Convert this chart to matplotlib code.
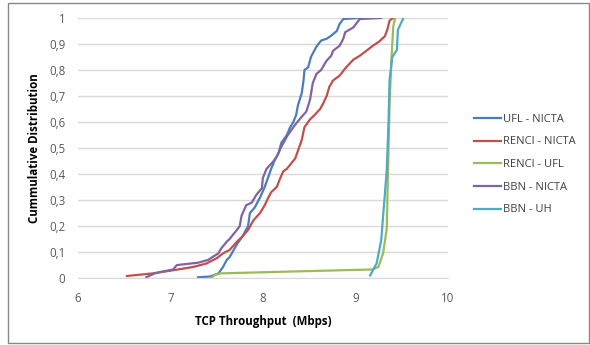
import matplotlib.pyplot as plt
from matplotlib.patches import Rectangle
from matplotlib.ticker import FuncFormatter

# CDF curves: (throughput Mbps, cumulative fraction)
ufl_nicta_x = [7.30, 7.43, 7.52, 7.57, 7.61, 7.64, 7.72, 7.78, 7.84, 7.86, 7.91, 7.97,
               8.02, 8.06, 8.09, 8.13, 8.17, 8.20, 8.24, 8.26, 8.29, 8.33, 8.36, 8.38,
               8.42, 8.44, 8.45, 8.49, 8.52, 8.58, 8.63, 8.69, 8.74, 8.80, 8.83, 8.87,
               9.05]
ufl_nicta_y = [0.003, 0.006, 0.018, 0.043, 0.07, 0.08, 0.13, 0.16, 0.20, 0.25, 0.27, 0.31,
               0.35, 0.39, 0.42, 0.454, 0.48, 0.52, 0.54, 0.55, 0.576, 0.60, 0.627, 0.665,
               0.71, 0.76, 0.80, 0.81, 0.85, 0.89, 0.913, 0.92, 0.932, 0.95, 0.977, 0.996,
               1.0]

renci_nicta_x = [6.53, 6.81, 7.03, 7.25, 7.39, 7.50, 7.57, 7.64, 7.72, 7.78, 7.84, 7.90,
                 7.97, 8.02, 8.06, 8.09, 8.15, 8.18, 8.22, 8.26, 8.35, 8.42, 8.45, 8.51,
                 8.56, 8.62, 8.65, 8.69, 8.72, 8.76, 8.83, 8.90, 8.98, 9.05, 9.12, 9.19,
                 9.26, 9.32, 9.35, 9.37, 9.41]
renci_nicta_y = [0.008, 0.018, 0.03, 0.043, 0.056, 0.076, 0.095, 0.108, 0.14, 0.16, 0.185, 0.223,
                 0.25, 0.28, 0.31, 0.33, 0.35, 0.377, 0.41, 0.42, 0.46, 0.53, 0.58, 0.61,
                 0.627, 0.65, 0.67, 0.70, 0.736, 0.76, 0.778, 0.81, 0.84, 0.855, 0.874, 0.893,
                 0.91, 0.93, 0.96, 0.99, 1.0]

renci_ufl_x = [7.45, 7.48, 7.54, 8.18, 9.18, 9.25, 9.30, 9.34, 9.36, 9.37, 9.39, 9.41, 9.43]
renci_ufl_y = [0.003, 0.012, 0.018, 0.024, 0.033, 0.043, 0.095, 0.19, 0.52, 0.67, 0.84, 0.967, 1.0]

bbn_nicta_x = [6.74, 6.83, 6.90, 7.03, 7.07, 7.30, 7.41, 7.46, 7.52, 7.55, 7.61, 7.64,
               7.73, 7.75, 7.77, 7.82, 7.88, 7.93, 7.99, 8.00, 8.04, 8.11, 8.15, 8.20,
               8.27, 8.35, 8.42, 8.47, 8.51, 8.54, 8.58, 8.63, 8.69, 8.74, 8.76, 8.83,
               8.87, 8.89, 8.98, 9.02, 9.05, 9.28]
bbn_nicta_y = [0.003, 0.018, 0.024, 0.033, 0.05, 0.059, 0.07, 0.082, 0.095, 0.114, 0.14, 0.15,
               0.19, 0.20, 0.24, 0.28, 0.29, 0.32, 0.346, 0.385, 0.42, 0.447, 0.467, 0.505,
               0.55, 0.59, 0.62, 0.64, 0.685, 0.75, 0.785, 0.80, 0.836, 0.855, 0.874, 0.893,
               0.92, 0.945, 0.964, 0.983, 0.996, 1.0]

bbn_uh_x = [9.16, 9.23, 9.28, 9.30, 9.34, 9.36, 9.37, 9.40, 9.45, 9.46, 9.52]
bbn_uh_y = [0.01, 0.056, 0.146, 0.236, 0.415, 0.61, 0.76, 0.85, 0.877, 0.954, 1.0]

x_ticks = [6, 7, 8, 9, 10]
y_ticks = [0, 0.1, 0.2, 0.3, 0.4, 0.5, 0.6, 0.7, 0.8, 0.9, 1]

series = [
    ("UFL - NICTA", ufl_nicta_x, ufl_nicta_y, "#4A7EBB"),
    ("RENCI - NICTA", renci_nicta_x, renci_nicta_y, "#C0504D"),
    ("RENCI - UFL", renci_ufl_x, renci_ufl_y, "#9BBB59"),
    ("BBN - NICTA", bbn_nicta_x, bbn_nicta_y, "#8064A2"),
    ("BBN - UH", bbn_uh_x, bbn_uh_y, "#4BACC6"),
]

plt.rcParams['font.family'] = ['Open Sans', 'DejaVu Sans']

fig = plt.figure(figsize=(5.9, 3.45), dpi=100)
ax = fig.add_axes([0.132, 0.194, 0.627, 0.754])

for name, xs, ys, col in series:
    ax.plot(xs, ys, color=col, lw=1.6, label=name)

ax.set_xlim(6, 10)
ax.set_ylim(0, 1)
ax.set_xticks(x_ticks)
ax.set_yticks(y_ticks)
ax.yaxis.set_major_formatter(FuncFormatter(
    lambda v, p: ("%g" % round(v, 1)).replace(".", ",")))
ax.tick_params(length=0, labelsize=8.3, labelcolor="#595959")
ax.tick_params(axis="x", pad=10)
ax.tick_params(axis="y", pad=9)
ax.grid(axis="y", color="#D9D9D9", lw=1)
ax.set_axisbelow(True)
for s in ["top", "right", "left"]:
    ax.spines[s].set_visible(False)
ax.spines["bottom"].set_color("#D9D9D9")

ax.set_xlabel("TCP Throughput  (Mbps)", fontsize=8.3, fontweight="bold", labelpad=7)
ax.set_ylabel("Cummulative Distribution", fontsize=8.3, fontweight="bold", labelpad=6)

leg = ax.legend(loc="upper left", bbox_to_anchor=(1.045, 0.67), frameon=False,
                fontsize=8, handlelength=2.4, handletextpad=0.15, labelspacing=1.05)
for t in leg.get_texts():
    t.set_color("#404040")

fig.patches.append(Rectangle((0.014, 0.006), 0.984, 0.985, transform=fig.transFigure,
                             fill=False, edgecolor="#888888", lw=1))

fig.savefig("out.png", dpi=100)
